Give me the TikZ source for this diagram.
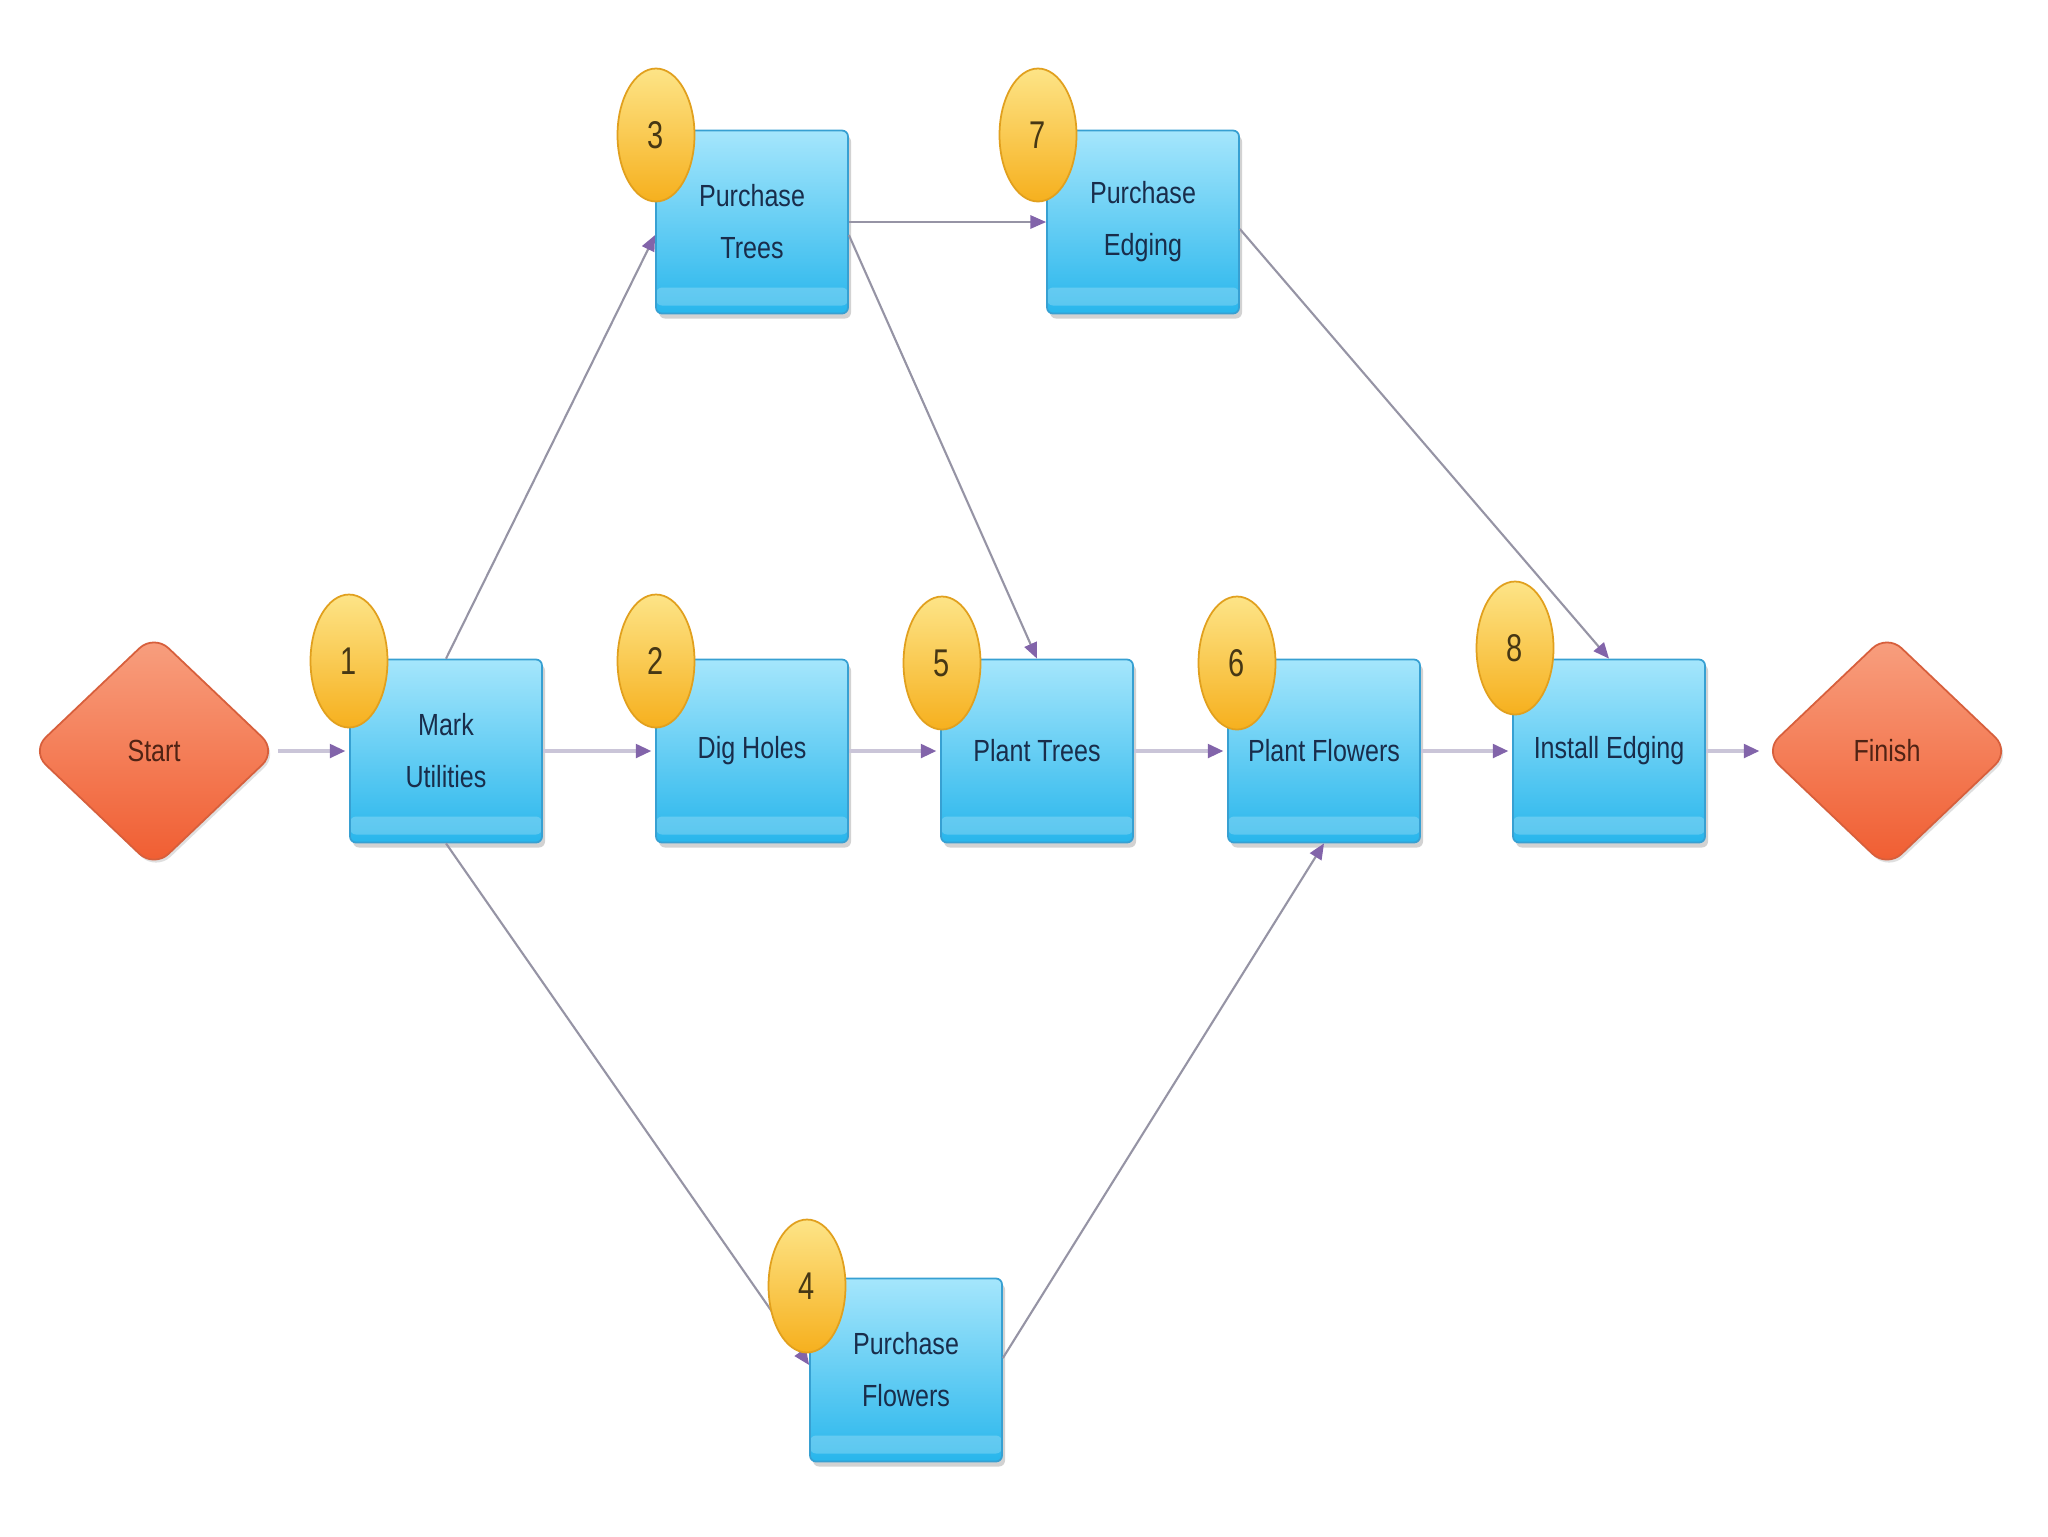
\documentclass[tikz,border=0pt]{standalone}
\usepackage{fontspec}
\setmainfont[FakeStretch=0.82]{Liberation Sans}
\newfontfamily\badgefont[FakeStretch=0.75]{Liberation Sans}
\usetikzlibrary{shapes.geometric,arrows.meta,shadows,calc}
\definecolor{boxtop}{RGB}{165,230,252}
\definecolor{boxmid}{RGB}{70,198,242}
\definecolor{boxbot}{RGB}{40,182,236}
\definecolor{boxline}{RGB}{55,160,210}
\definecolor{dtop}{RGB}{248,160,128}
\definecolor{dbot}{RGB}{240,92,48}
\definecolor{dline}{RGB}{215,95,60}
\definecolor{btop}{RGB}{253,228,135}
\definecolor{bbot}{RGB}{246,176,30}
\definecolor{bline}{RGB}{225,160,30}
\definecolor{hline}{RGB}{202,197,216}
\definecolor{dgline}{RGB}{150,148,165}
\definecolor{tipc}{RGB}{130,100,170}
\definecolor{boxtext}{RGB}{25,45,75}
\definecolor{dtext}{RGB}{80,35,20}
\definecolor{btext}{RGB}{70,55,20}
\begin{document}
\begin{tikzpicture}[x=0.1mm,y=-0.1mm,
  task/.style={rectangle, rounded corners=0.6mm, draw=boxline, line width=0.5pt,
    top color=boxtop, middle color=boxmid, bottom color=boxbot,
    minimum width=19.2mm, minimum height=18.3mm, align=center, text=boxtext,
    font=\fontsize{8.7}{14.8}\selectfont,
    drop shadow={shadow xshift=0.3mm, shadow yshift=-0.5mm, opacity=0.35},
    path picture={\fill[white,opacity=0.22]
      ($(path picture bounding box.south west)+(0,-8)$) rectangle
      ($(path picture bounding box.south east)+(0,-26)$);}},
  term/.style={diamond, aspect=1.05, minimum width=24.6mm, minimum height=23.4mm,
    rounded corners=2mm, draw=dline, line width=0.5pt, top color=dtop, bottom color=dbot,
    text=dtext, font=\fontsize{8.7}{10}\selectfont,
    drop shadow={shadow xshift=0.2mm, shadow yshift=-0.3mm, opacity=0.25}},
  badge/.style={ellipse, minimum width=7.7mm, minimum height=13.3mm, inner sep=0pt,
    draw=bline, line width=0.5pt, top color=btop, bottom color=bbot, text=btext,
    font=\badgefont\fontsize{11}{11}\selectfont},
  hedge/.style={draw=hline, line width=1.4pt, -{Triangle[length=4.5pt,width=3.8pt,color=tipc]}, shorten >=1pt},
  dedge/.style={draw=dgline, line width=0.6pt, -{Triangle[length=4.5pt,width=3.8pt,color=tipc]}}
]
\useasboundingbox (0,0) rectangle (2048,1536);
\fill[white] (0,0) rectangle (2048,1536);

% terminals
\node[term] (start) at (154,751) {Start};
\node[term] (finish) at (1887,751) {Finish};

% tasks
\node[task] (mu)  at (446,751)  {Mark\\Utilities};
\node[task] (dh)  at (752,751)  {Dig Holes};
\node[task] (ptr) at (1037,751) {Plant Trees};
\node[task] (pfl) at (1324,751) {Plant Flowers};
\node[task] (ie)  at (1609,751) {Install Edging};
\node[task] (put) at (752,222)  {Purchase\\Trees};
\node[task] (pue) at (1143,222) {Purchase\\Edging};
\node[task] (puf) at (906,1370) {Purchase\\Flowers};

% connectors
\draw[hedge] (start) -- (mu);
\draw[hedge] (mu) -- (dh);
\draw[hedge] (dh) -- (ptr);
\draw[hedge] (ptr) -- (pfl);
\draw[hedge] (pfl) -- (ie);
\draw[hedge] (ie) -- (finish);
\draw[dedge] (put.east) -- (pue.west);
\draw[dedge] (mu.north) -- ($(put.west)+(0,13)$);
\draw[dedge] ($(put.east)+(0,13)$) -- (ptr.north);
\draw[dedge] ($(pue.east)+(0,7)$) -- (ie.north);
\draw[dedge] (mu.south) -- ($(puf.west)+(0,-5)$);
\draw[dedge] ($(puf.east)+(0,-12)$) -- (pfl.south);

% badges
\node[badge] (b1) at (349,661) {1};
\node[badge] (b2) at (656,661) {2};
\node[badge] (b5) at (942,663) {5};
\node[badge] (b6) at (1237,663) {6};
\node[badge] (b8) at (1515,648) {8};
\node[badge] (b3) at (656,135) {3};
\node[badge] (b7) at (1038,135) {7};
\node[badge] (b4) at (807,1286) {4};
\end{tikzpicture}
\end{document}
